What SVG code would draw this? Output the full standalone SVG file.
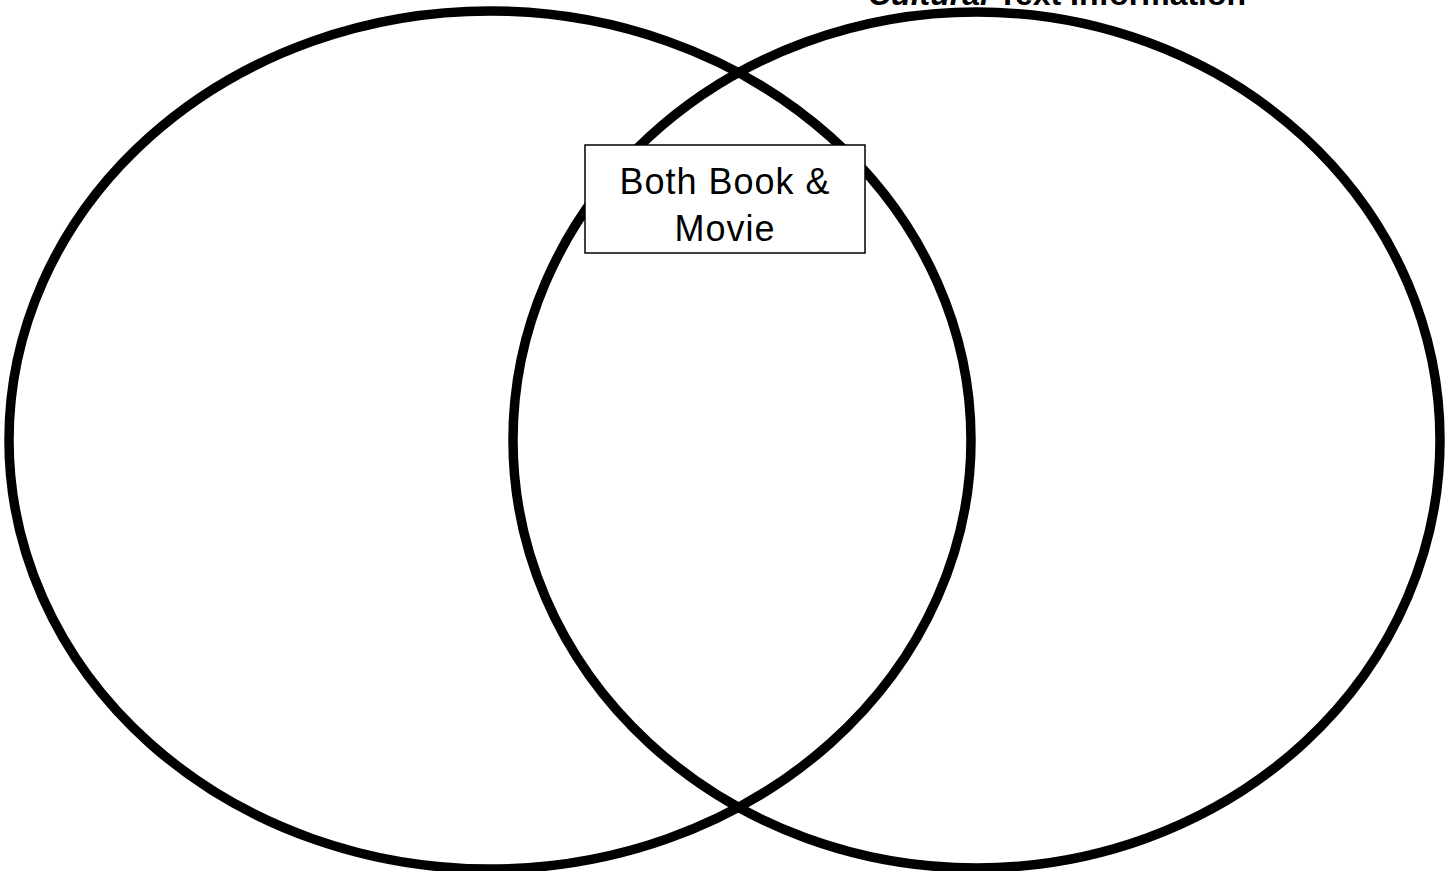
<svg xmlns="http://www.w3.org/2000/svg" width="1447" height="871" viewBox="0 0 1447 871">
<style>
.circle{fill:none;stroke:#000;stroke-width:9.5}
.title{font-family:"Liberation Sans",Arial,sans-serif;font-weight:bold;font-size:32px;fill:#000}
.lbl{font-family:"Liberation Sans",Arial,sans-serif;font-size:36px;fill:#000;text-anchor:middle;letter-spacing:1px}
</style>
<rect width="1447" height="871" fill="#fff"/>
<g id="connectors"></g>
<g id="left-circle"><ellipse class="circle" cx="490" cy="440" rx="481" ry="429"/></g>
<g id="right-circle"><ellipse class="circle" cx="976.5" cy="440" rx="463.5" ry="428"/></g>
<g id="title-right"><text class="title" x="868" y="5"><tspan font-style="italic">Cultural</tspan> Text Information</text></g>
<g id="both-box">
<rect x="585" y="145" width="280" height="108" fill="#fff" stroke="#000" stroke-width="1.5"/>
<text class="lbl" x="725" y="194">Both Book &amp;</text>
<text class="lbl" x="725" y="241">Movie</text>
</g>
</svg>
